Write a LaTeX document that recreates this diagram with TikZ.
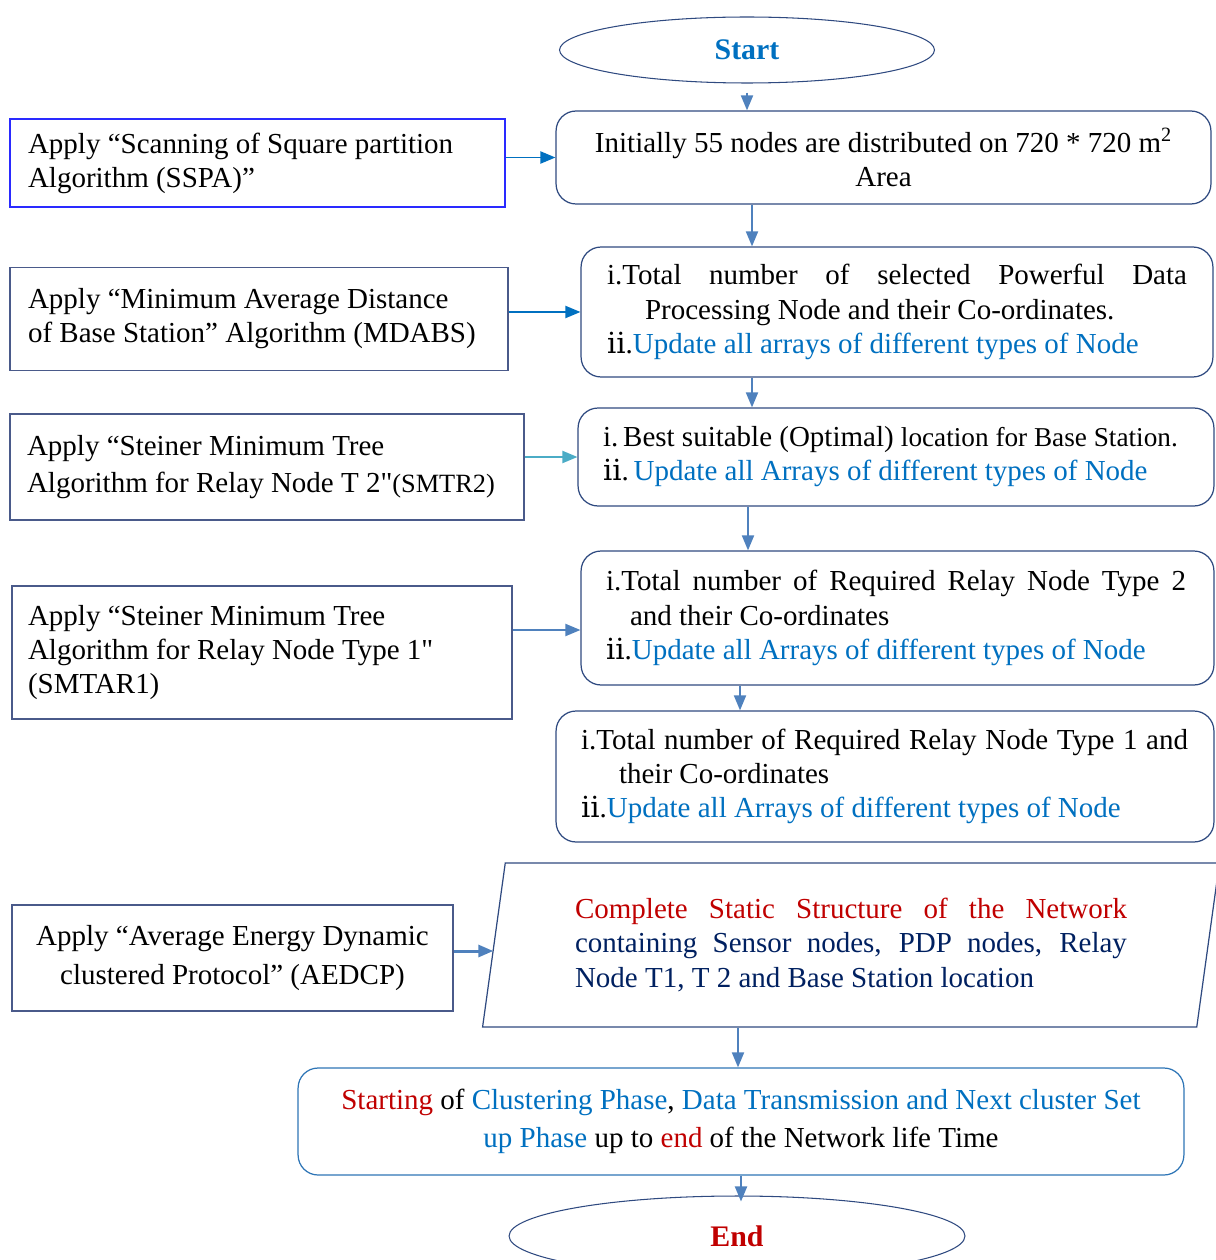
\documentclass[tikz,border=0pt]{standalone}
\usepackage{fontspec}
\setmainfont{Liberation Serif}
\newfontfamily\romfont{DejaVu Serif}
\newfontfamily\inchfont{Liberation Serif}
\usetikzlibrary{shapes.geometric, arrows.meta}
\definecolor{txtblue}{HTML}{0070C0}
\definecolor{txtred}{HTML}{C00000}
\definecolor{txtnavy}{HTML}{002060}
\definecolor{linesteel}{HTML}{4F81BD}
\definecolor{lineteal}{HTML}{4BACC6}
\definecolor{rimnavy}{HTML}{2F4A80}
\definecolor{rimslate}{HTML}{4A5A8A}
\definecolor{rimblue}{HTML}{2E75B6}
\definecolor{rimbright}{HTML}{2A2AFF}
\newcommand{\twoi}{{\romfont ⅱ}}
\newcommand{\inchq}{{\inchfont "}}
\newcommand{\spreadline}[2]{\makebox[#1][s]{\spaceskip=0pt\relax #2}}
\tikzset{
    every node/.style={font=\fontsize{16.5}{19.4}\selectfont, inner sep=0pt},
    termnode/.style={ellipse, draw=rimnavy, line width=0.6pt,
    	font=\fontsize{17}{20}\selectfont\bfseries},
    procbox/.style={rectangle, rounded corners=0.4cm, draw=rimnavy, line width=0.7pt},
    leftbox/.style={rectangle, draw=rimslate, line width=0.7pt, align=flush left},
    flowline/.style={draw=linesteel, line width=1.1pt,
    	-{Triangle[length=0.3cm, width=0.24cm]}}
}

\begin{document}
\begin{tikzpicture}[x=0.02cm, y=-0.02cm]
  \useasboundingbox (0,0) rectangle (1215,1260);
  % main column
  \node (start) [termnode, minimum width=7.5cm, minimum height=1.32cm, text=txtblue] at (747,50) {Start};
  \node (init) [procbox, minimum width=13.1cm, minimum height=1.86cm, align=flush center] at (883.5,157.5)
    {Initially 55 nodes are distributed on 720 * 720 m\textsuperscript{2}\\Area};
  \node (pdp) [procbox, minimum width=12.64cm, minimum height=2.6cm, text width=11.6cm, align=flush left] at (897,312)
    {\spreadline{11.6cm}{i.Total number of selected Powerful Data}\\
     \hspace*{0.76cm}Processing Node and their Co-ordinates.\\
     \twoi.\textcolor{txtblue}{Update all arrays of different types of Node}};
  \node (bs) [procbox, minimum width=12.72cm, minimum height=1.96cm, text width=11.72cm, align=flush left] at (896,457)
    {i.\,Best suitable (Optimal) {\fontsize{15.5}{19.4}\selectfont location for Base Station.}\\
     \twoi.\,\textcolor{txtblue}{Update all Arrays of different types of Node}};
  \node (rn2) [procbox, minimum width=12.66cm, minimum height=2.68cm, text width=11.66cm, align=flush left] at (897.5,618)
    {\spreadline{11.6cm}{i.Total number of Required Relay Node Type 2}\\
     \hspace*{0.48cm}and their Co-ordinates\\
     \twoi.\textcolor{txtblue}{Update all Arrays of different types of Node}};
  \node (rn1) [procbox, minimum width=13.16cm, minimum height=2.62cm, text width=12.16cm, align=flush left] at (885,776.5)
    {\spreadline{12.14cm}{i.Total number of Required Relay Node Type 1 and}\\
     \hspace*{0.76cm}their Co-ordinates\\
     \twoi.\textcolor{txtblue}{Update all Arrays of different types of Node}};
  \node (net) [trapezium, trapezium left angle=79, trapezium right angle=101, trapezium stretches,
    draw=rimnavy, line width=0.7pt, minimum width=14.8cm, minimum height=3.28cm,
    text width=11.04cm, align=flush left] at (851,945)
    {\textcolor{txtred}{\spreadline{11.04cm}{Complete Static Structure of the Network}}\\
     \textcolor{txtnavy}{\spreadline{11.04cm}{containing Sensor nodes, PDP nodes, Relay}}\\
     \textcolor{txtnavy}{Node T1, T 2 and Base Station location}};
  \node (phase) [procbox, draw=rimblue, minimum width=17.72cm, minimum height=2.14cm, align=flush center,
    font=\fontsize{16.5}{22}\selectfont] at (741,1121.5)
    {\textcolor{txtred}{Starting} of \textcolor{txtblue}{Clustering Phase}, \textcolor{txtblue}{Data Transmission and Next cluster Set}\\
     \textcolor{txtblue}{up Phase} up to \textcolor{txtred}{end} of the Network life Time};
  \node (stop) [termnode, minimum width=9.12cm, minimum height=1.6cm, text=txtred] at (737,1236) {End};
  % algorithm boxes on the left
  \node (sspa) [leftbox, draw=rimbright, minimum width=9.9cm, minimum height=1.76cm, text width=9.18cm] at (257.5,163)
    {Apply “Scanning of Square partition\\Algorithm (SSPA)”};
  \node (mdabs) [leftbox, minimum width=9.96cm, minimum height=2.06cm, text width=9.24cm] at (259,319)
    {Apply “Minimum Average Distance\\of Base Station” Algorithm (MDABS)};
  \node (smtr2) [leftbox, minimum width=10.28cm, minimum height=2.12cm, text width=9.6cm] at (267,467)
    {Apply “Steiner Minimum Tree\\[1.5pt]Algorithm for Relay Node T 2\inchq{\fontsize{15}{19.4}\selectfont(SMTR2)}};
  \node (smtar1) [leftbox, minimum width=10cm, minimum height=2.66cm, text width=9.36cm] at (262,652.5)
    {Apply “Steiner Minimum Tree\\Algorithm for Relay Node Type 1\inchq\\(SMTAR1)};
  \node (aedcp) [leftbox, minimum width=8.82cm, minimum height=2.12cm, align=flush center,
    font=\fontsize{16.5}{22.5}\selectfont] at (232.5,958)
    {Apply “Average Energy Dynamic\\clustered Protocol” (AEDCP)};

  \draw[flowline, shorten <=0.18cm] (start.south) -- (start.south |- init.north);
  \draw[flowline] (752,0 |- init.south) -- (752,0 |- pdp.north);
  \draw[flowline] (752,0 |- pdp.south) -- (752,0 |- bs.north);
  \draw[flowline] (748,0 |- bs.south) -- (748,0 |- rn2.north);
  \draw[flowline] (740,0 |- rn2.south) -- (740,0 |- rn1.north);
  \draw[flowline] (738,0 |- net.south) -- (738,0 |- phase.north);
  \draw[flowline, shorten >=-0.12cm] (741,0 |- phase.south) -- (741,0 |- stop.north);
  \draw[flowline, draw=txtblue] (sspa.east |- init.west) -- (init.west);
  \draw[flowline, draw=txtblue] (mdabs.east |- pdp.west) -- (pdp.west);
  \draw[flowline, draw=lineteal] (smtr2.east |- bs.west) -- (bs.west);
  \draw[flowline] (smtar1.east |- 0,630) -- (rn2.west |- 0,630);
  \draw[flowline, line width=1.7pt] (aedcp.east |- 0,951) -- (net.west |- 0,951);
\end{tikzpicture}
\end{document}
